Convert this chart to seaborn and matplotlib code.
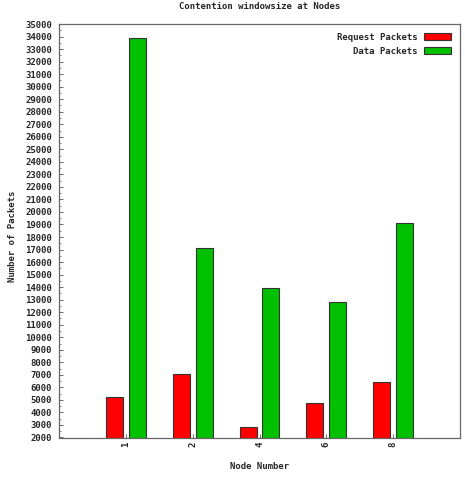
import matplotlib
matplotlib.use("Agg")
import matplotlib.pyplot as plt
from matplotlib.patches import Patch
from matplotlib.ticker import MultipleLocator
import seaborn as sns
import pandas as pd

nodes = ["1", "2", "4", "6", "8"]
request_packets = [5250, 7100, 2800, 4750, 6400]
data_packets = [33900, 17150, 13900, 12800, 19100]
series_names = ["Request Packets", "Data Packets"]
colors = ["#ff0000", "#00c000"]

df = pd.DataFrame({
    "node": nodes * 2,
    "value": request_packets + data_packets,
    "series": [series_names[0]] * len(nodes) + [series_names[1]] * len(nodes),
})

sns.set_style("white")
plt.rcParams["font.family"] = ["DejaVu Sans Mono"]
plt.rcParams["font.weight"] = "bold"

fig = plt.figure(figsize=(4.65, 5.03), dpi=100)
ax = fig.add_axes([59 / 465, 1 - 437.5 / 503, (460 - 59) / 465, (437.5 - 24) / 503])

sns.barplot(data=df, x="node", y="value", hue="series", order=nodes,
            hue_order=series_names, palette=colors, width=0.68, gap=0.25,
            saturation=1, edgecolor="#333333", linewidth=0.8, ax=ax,
            legend=False)

ax.set_xlim(-1, 5)
ax.set_ylim(2000, 35000)
ax.yaxis.set_major_locator(MultipleLocator(1000))
ax.yaxis.set_minor_locator(MultipleLocator(500))
ax.tick_params(axis="y", which="major", direction="in", length=3, width=0.6,
               color="#555555", labelsize=6.5, pad=5, left=True)
ax.tick_params(axis="y", which="minor", direction="in", length=1.5, width=0.5,
               color="#555555", left=True)
ax.tick_params(axis="x", which="major", direction="in", length=3, width=0.6,
               color="#555555", labelsize=6.5, pad=3, bottom=True)
for lab in ax.get_xticklabels():
    lab.set_rotation(90)
for lab in ax.get_yticklabels() + ax.get_xticklabels():
    lab.set_fontweight("bold")

for s in ax.spines.values():
    s.set_visible(True)
    s.set_color("#666666")
    s.set_linewidth(0.9)

ax.set_xlabel("Node Number", fontsize=6.5, fontweight="bold")
ax.set_ylabel("Number of Packets", fontsize=6.5, fontweight="bold")
ax.yaxis.set_label_coords((17 - 59) / 401, (437.5 - 236) / 413.5)
ax.xaxis.set_label_coords(0.5, (437.5 - 462) / 413.5)
ax.set_title("Contention windowsize at Nodes", fontsize=6.5, fontweight="bold", pad=11)

handles = [Patch(facecolor=c, edgecolor="#333333", linewidth=0.8) for c in colors]
ax.legend(handles, series_names, loc="upper right", frameon=False,
          markerfirst=False, handlelength=3.0, handleheight=0.8,
          handletextpad=0.7, labelspacing=0.5, borderaxespad=0.6,
          prop={"family": "DejaVu Sans Mono", "weight": "bold", "size": 6.5})

fig.savefig("out.png", dpi=100, facecolor="white")
